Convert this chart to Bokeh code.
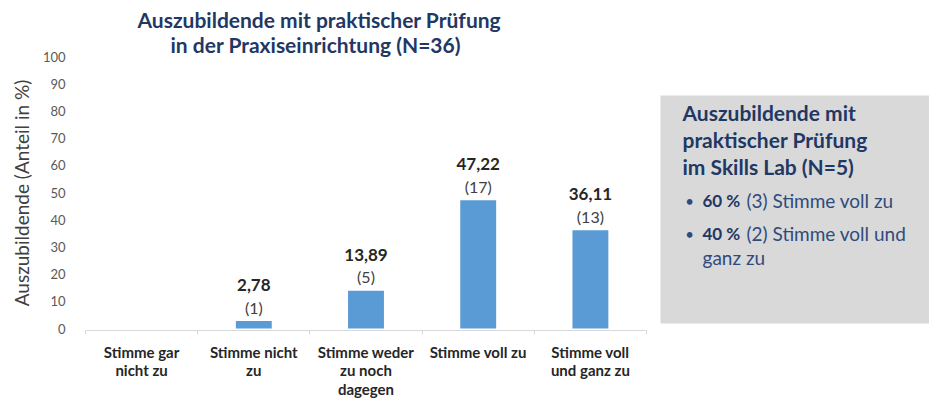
from bokeh.plotting import figure
from bokeh.models import Range1d, FixedTicker, Label, BoxAnnotation, Title
from bokeh.embed import file_html
from bokeh.resources import INLINE
from bokeh.core.properties import value

# ---- data ----
categories = ["Stimme gar\nnicht zu", "Stimme nicht\nzu", "Stimme weder\nzu noch\ndagegen",
              "Stimme voll zu", "Stimme voll\nund ganz zu"]
percent = [0.0, 2.78, 13.89, 47.22, 36.11]
counts = [0, 1, 5, 17, 13]
y_ticks = [0, 10, 20, 30, 40, 50, 60, 70, 80, 90, 100]

title_lines = ["Auszubildende mit praktischer Prüfung", "in der Praxiseinrichtung (N=36)"]
box_title = ["Auszubildende mit", "praktischer Prüfung", "im Skills Lab (N=5)"]
box_items_bold = ["60 %", "40 %"]
box_items_text = ["(3) Stimme voll zu", "(2) Stimme voll und"]
box_item_cont = "ganz zu"

FONT = "Lato"
NAVY = "#1f3864"
NAVY2 = "#2f4b7c"
BAR = "#5b9bd5"

n = len(categories)
xs = [i + 0.5 for i in range(n)]

p = figure(width=929, height=401, output_backend="svg", toolbar_location=None,
           x_range=Range1d(0, n * 844 / 561), y_range=Range1d(-0.7, 100.4),
           min_border_left=85, min_border_right=0, min_border_top=55, min_border_bottom=71)
p.outline_line_color = None
p.xgrid.visible = False
p.ygrid.visible = False
p.background_fill_color = "white"
p.border_fill_color = "white"

# chart title (two lines)
p.title.text = title_lines[0]
p.title.align = "left"
p.title.offset = 52
p.title.standoff = -3
p.title.text_font = FONT
p.title.text_font_size = "21px"
p.title.text_font_style = "bold"
p.title.text_color = NAVY
p.add_layout(Title(text=title_lines[1], align="left", offset=85, standoff=-2,
                   text_font=FONT, text_font_size="21px", text_font_style="bold",
                   text_color=NAVY), "above")

# side box (Skills Lab)
p.add_layout(BoxAnnotation(left=575, right=900, bottom=7, top=235,
                           left_units="screen", right_units="screen",
                           bottom_units="screen", top_units="screen",
                           fill_color="#d9d9d9", fill_alpha=1.0, line_color=None,
                           level="underlay"))

p.vbar(x=xs, top=percent, width=0.32, fill_color=BAR, line_color=None)

lab_x = [x for x, c in zip(xs, counts) if c > 0]
lab_y = [v for v, c in zip(percent, counts) if c > 0]
val_txt = [f"{v:.2f}".replace(".", ",") for v, c in zip(percent, counts) if c > 0]
cnt_txt = [f"({c})" for c in counts if c > 0]

p.text(x=lab_x, y=lab_y, text=val_txt, y_offset=-36, text_align="center",
       text_baseline="middle", text_font=value(FONT), text_font_style="bold",
       text_font_size="17px", text_color="#262626")
p.text(x=lab_x, y=lab_y, text=cnt_txt, y_offset=-14, text_align="center",
       text_baseline="middle", text_font=value(FONT),
       text_font_size="16px", text_color="#404040")

# x axis
xa = p.xaxis[0]
xa.bounds = (0, n)
xa.ticker = FixedTicker(ticks=xs, minor_ticks=list(range(n + 1)))
xa.major_label_overrides = {x: c for x, c in zip(xs, categories)}
xa.axis_line_color = "#d9d9d9"
xa.major_tick_line_color = None
xa.minor_tick_line_color = "#d9d9d9"
xa.minor_tick_out = 4
xa.minor_tick_in = 0
xa.major_label_standoff = 6
xa.major_label_text_font = FONT
xa.major_label_text_font_style = "bold"
xa.major_label_text_font_size = "15px"
xa.major_label_text_color = "#262626"
xa.major_label_text_line_height = 1.05

# y axis
ya = p.yaxis[0]
ya.ticker = FixedTicker(ticks=y_ticks)
ya.axis_line_color = None
ya.major_tick_line_color = None
ya.minor_tick_line_color = None
ya.major_label_standoff = 14
ya.major_label_text_font = FONT
ya.major_label_text_font_size = "13px"
ya.major_label_text_color = "#595959"
ya.axis_label = "Auszubildende (Anteil in %)"
ya.axis_label_text_font = FONT
ya.axis_label_text_font_style = "normal"
ya.axis_label_text_font_size = "19px"
ya.axis_label_text_color = "#404040"
ya.axis_label_standoff = 7

for i, t in enumerate(box_title):
    p.add_layout(Label(x=597, y=218 - 27 * i, x_units="screen", y_units="screen", text=t,
                       text_baseline="middle", text_font=FONT, text_font_style="bold",
                       text_font_size="21px", text_color=NAVY))

for i, (b, t) in enumerate(zip(box_items_bold, box_items_text)):
    yy = 130 - 33 * i
    p.add_layout(Label(x=604, y=yy, x_units="screen", y_units="screen", text="•",
                       text_align="center", text_baseline="middle", text_font=FONT,
                       text_font_size="15px", text_color=NAVY2))
    p.add_layout(Label(x=617, y=yy, x_units="screen", y_units="screen", text=b,
                       text_baseline="middle", text_font=FONT, text_font_style="bold",
                       text_font_size="17px", text_color=NAVY))
    p.add_layout(Label(x=661, y=yy, x_units="screen", y_units="screen", text=t,
                       text_baseline="middle", text_font=FONT,
                       text_font_size="19px", text_color=NAVY2))
p.add_layout(Label(x=617, y=73, x_units="screen", y_units="screen", text=box_item_cont,
                   text_baseline="middle", text_font=FONT,
                   text_font_size="19px", text_color=NAVY2))

open("out.html", "w").write(file_html(p, INLINE))
